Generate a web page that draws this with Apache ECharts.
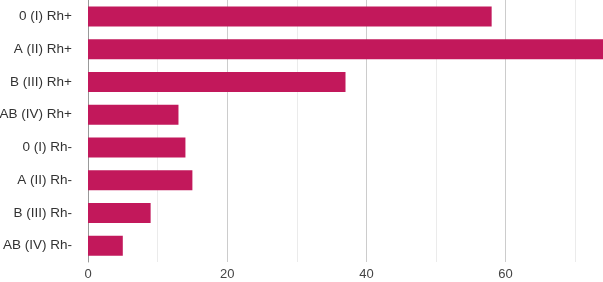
<!DOCTYPE html>
<html>
<head>
<meta charset="utf-8">
<script src="https://cdn.jsdelivr.net/npm/echarts@6/dist/echarts.min.js"></script>
<style>
  html, body { margin: 0; padding: 0; background: #fff; }
  #chart { width: 603px; height: 282px; }
</style>
</head>
<body>
<div id="chart"></div>
<script>
const groups = ['0 (I) Rh+', 'A (II) Rh+', 'B (III) Rh+', 'AB (IV) Rh+', '0 (I) Rh-', 'A (II) Rh-', 'B (III) Rh-', 'AB (IV) Rh-']
const counts = [58, 74, 37, 13, 14, 15, 9, 5]
const labelTicks = [0, 20, 40, 60]

const chart = echarts.init(document.getElementById('chart'))

chart.setOption({
  animation: false,
  backgroundColor: '#fff',
  grid: { left: 88, right: 0, top: 0, bottom: 20, containLabel: false, outerBoundsMode: 'none' },
  xAxis: {
    type: 'value',
    min: 0,
    max: 74,
    interval: 10,
    axisLine: { show: false },
    axisTick: { show: false },
    axisLabel: {
      color: '#444',
      fontSize: 13,
      fontFamily: 'Arial, "Liberation Sans", sans-serif',
      margin: 6,
      showMaxLabel: false,
      formatter: v => (labelTicks.includes(v) ? String(v) : '')
    },
    splitLine: {
      show: true,
      showMaxLine: false,
      lineStyle: { color: ['#cccccc', '#ebebeb'], width: 1 }
    }
  },
  yAxis: {
    type: 'category',
    inverse: true,
    data: groups,
    axisLine: { show: true, lineStyle: { color: '#999', width: 1 } },
    axisTick: { show: false },
    axisLabel: {
      color: '#333',
      fontSize: 13.5,
      fontFamily: 'Arial, "Liberation Sans", sans-serif',
      margin: 16
    }
  },
  series: [
    {
      type: 'bar',
      data: counts,
      barWidth: 20,
      itemStyle: { color: '#C2185B' }
    }
  ]
})
</script>
</body>
</html>
